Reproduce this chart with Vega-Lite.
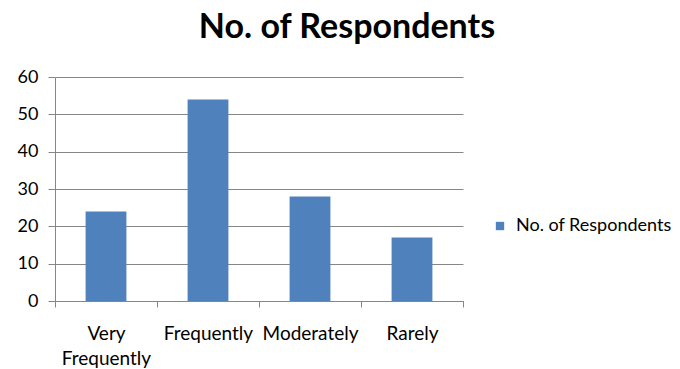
{
  "$schema": "https://vega.github.io/schema/vega-lite/v6.json",
  "width": 408,
  "height": 224,
  "autosize": {"type": "none"},
  "padding": {"left": 55, "top": 77, "right": 217, "bottom": 68},
  "background": "white",
  "title": {
    "text": "No. of Respondents",
    "font": "Lato",
    "fontSize": 34,
    "fontWeight": "bold",
    "color": "#000000",
    "anchor": "middle",
    "frame": "group",
    "dx": 88,
    "baseline": "alphabetic",
    "offset": -4
  },
  "data": {
    "values": [
      {"frequency": "Very Frequently", "respondents": 24, "series": "No. of Respondents"},
      {"frequency": "Frequently", "respondents": 54, "series": "No. of Respondents"},
      {"frequency": "Moderately", "respondents": 28, "series": "No. of Respondents"},
      {"frequency": "Rarely", "respondents": 17, "series": "No. of Respondents"}
    ]
  },
  "mark": {"type": "bar", "width": {"band": 0.4}},
  "encoding": {
    "x": {
      "field": "frequency",
      "type": "nominal",
      "sort": null,
      "title": null,
      "scale": {"paddingInner": 0, "paddingOuter": 0},
      "axis": {
        "labelAngle": 0,
        "tickBand": "extent",
        "labelExpr": "datum.label == 'Very Frequently' ? ['Very', 'Frequently'] : datum.label",
        "labelFont": "Lato",
        "labelFontSize": 19,
        "labelColor": "#000000",
        "labelPadding": 17,
        "labelLineHeight": 25,
        "labelBaseline": "top",
        "labelOverlap": false,
        "labelLimit": 300,
        "domainColor": "#868686",
        "tickColor": "#868686",
        "tickSize": 6,
        "grid": false
      }
    },
    "y": {
      "field": "respondents",
      "type": "quantitative",
      "title": null,
      "scale": {"domain": [0, 60], "nice": false},
      "axis": {
        "values": [0, 10, 20, 30, 40, 50, 60],
        "labelFont": "Lato",
        "labelFontSize": 18,
        "labelColor": "#000000",
        "labelPadding": 10,
        "domainColor": "#868686",
        "tickColor": "#868686",
        "tickSize": 7,
        "gridColor": "#868686",
        "gridWidth": 1
      }
    },
    "color": {
      "field": "series",
      "type": "nominal",
      "title": null,
      "scale": {"range": ["#4F81BD"]},
      "legend": {
        "orient": "none",
        "legendX": 436,
        "legendY": 140,
        "symbolType": "square",
        "symbolSize": 70,
        "symbolStrokeWidth": 0,
        "labelFont": "Lato",
        "labelFontSize": 18,
        "labelColor": "#000000",
        "labelOffset": 7,
        "labelLimit": 300
      }
    }
  },
  "config": {"view": {"stroke": null}}
}
